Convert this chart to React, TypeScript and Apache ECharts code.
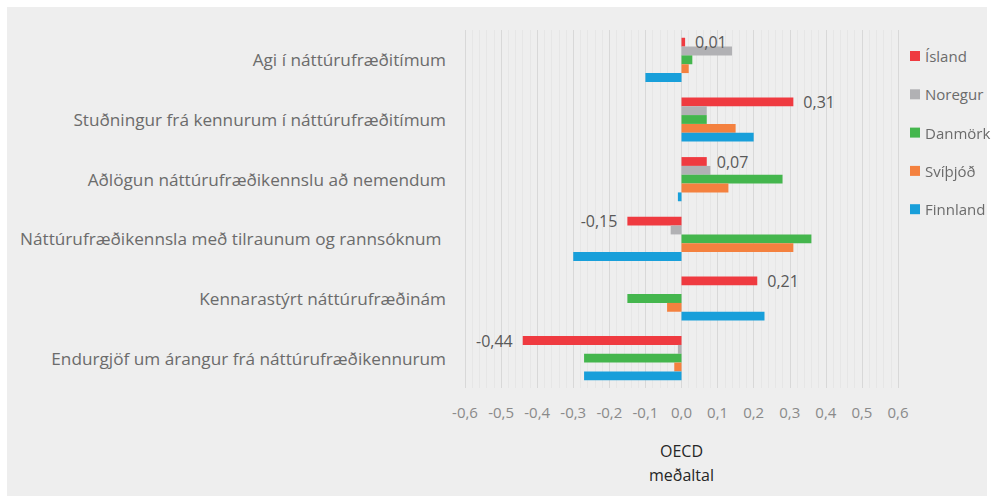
import React, { useEffect, useRef } from "react";
import * as echarts from "echarts";

const categories = [
  "Agi í náttúrufræðitímum",
  "Stuðningur frá kennurum í náttúrufræðitímum",
  "Aðlögun náttúrufræðikennslu að nemendum",
  "Náttúrufræðikennsla með tilraunum og rannsóknum ",
  "Kennarastýrt náttúrufræðinám",
  "Endurgjöf um árangur frá náttúrufræðikennurum",
];

const seriesNames = ["Ísland", "Noregur", "Danmörk", "Svíþjóð", "Finnland"];
const island = [0.01, 0.31, 0.07, -0.15, 0.21, -0.44];
const noregur = [0.14, 0.07, 0.08, -0.03, 0, -0.01];
const danmork = [0.03, 0.07, 0.28, 0.36, -0.15, -0.27];
const svithjod = [0.02, 0.15, 0.13, 0.31, -0.04, -0.02];
const finnland = [-0.1, 0.2, -0.01, -0.3, 0.23, -0.27];
const colors = ["#ef3a40", "#b1b1b4", "#44b64d", "#f4813f", "#189fda"];
const xTicks = { min: -0.6, max: 0.6, interval: 0.1 };

const fmt = (v: number, d: number) => v.toFixed(d).replace(".", ",");

export default function App() {
  const ref = useRef<HTMLDivElement>(null);
  useEffect(() => {
    if (!ref.current) return;
    const chart = echarts.init(ref.current, null, { renderer: "svg" });
    const font = "'Open Sans', sans-serif";
    const all = [island, noregur, danmork, svithjod, finnland];
    const series = all.map((vals, i) => ({
      name: seriesNames[i],
      type: "bar",
      barGap: "0%",
      barCategoryGap: "26%",
      itemStyle: { color: colors[i] },
      data:
        i === 0
          ? vals.map((v) => ({
              value: v,
              label: {
                show: true,
                position: v < 0 ? "left" : "right",
                distance: 10,
                formatter: () => fmt(v, 2),
                color: "#595959",
                fontSize: 16,
                fontFamily: font,
              },
            }))
          : vals,
    }));
    chart.setOption({
      animation: false,
      textStyle: { fontFamily: font },
      grid: { left: 458, right: 94, top: 23, bottom: 108 },
      legend: {
        orient: "vertical",
        left: 903,
        top: 41,
        padding: 0,
        itemGap: 22.3,
        itemWidth: 10,
        itemHeight: 10,
        icon: "rect",
        data: seriesNames,
        textStyle: { color: "#6b6b6b", fontSize: 15, lineHeight: 16, fontFamily: font },
      },
      xAxis: {
        type: "value",
        min: xTicks.min,
        max: xTicks.max,
        interval: xTicks.interval,
        axisLine: { show: false },
        axisTick: { show: false },
        axisLabel: {
          color: "#8a8a8a",
          fontSize: 15,
          margin: 16,
          fontFamily: font,
          formatter: (v: number) => fmt(v, 1),
        },
        splitLine: { show: true, lineStyle: { color: "#d8d8d8", width: 1 } },
        minorTick: { show: false, splitNumber: 5 },
        minorSplitLine: { show: true, lineStyle: { color: "#e6e6e6", width: 1 } },
        name: "OECD\nmeðaltal",
        nameLocation: "middle",
        nameGap: 51,
        nameTextStyle: { color: "#262626", fontSize: 16, lineHeight: 24, fontFamily: font },
      },
      yAxis: {
        type: "category",
        inverse: true,
        data: categories,
        axisLine: { show: false },
        axisTick: { show: false },
        axisLabel: { color: "#6b6b6b", fontSize: 17.2, margin: 19, fontFamily: font },
      },
      series,
    });
    return () => chart.dispose();
  }, []);
  return (
    <div
      style={{
        position: "fixed",
        left: 7,
        top: 7,
        width: 980,
        height: 489,
        background: "#eeeeee",
      }}
    >
      <div
        ref={ref}
        style={{ position: "absolute", left: 0, top: 0, width: 985, height: 489 }}
      />
    </div>
  );
}
